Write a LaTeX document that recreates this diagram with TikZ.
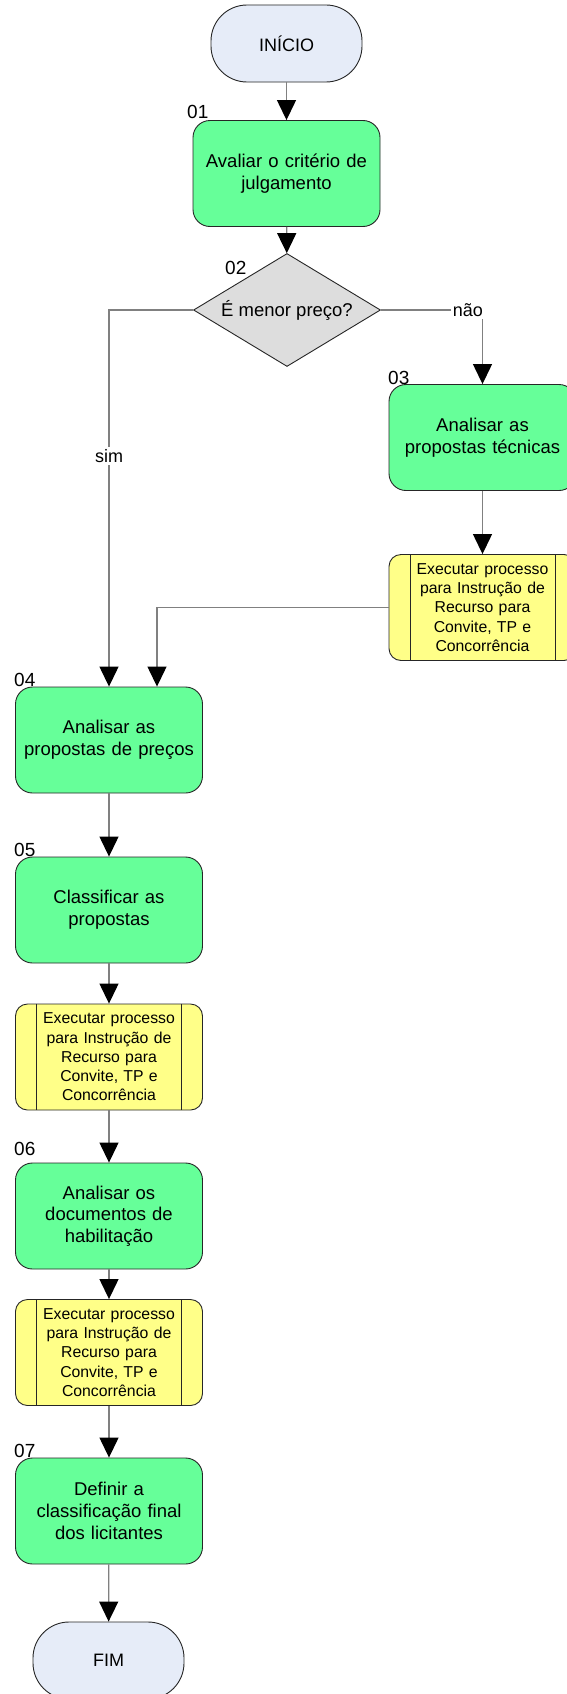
\documentclass[tikz,border=0pt]{standalone}
\usepackage{fontspec}
\setmainfont{Liberation Sans}
\usetikzlibrary{shapes.geometric,arrows.meta}
\definecolor{boxgreen}{RGB}{102,255,153}
\definecolor{boxyellow}{RGB}{255,255,136}
\definecolor{termfill}{RGB}{230,236,248}
\definecolor{decfill}{RGB}{221,221,221}
\definecolor{linegray}{RGB}{128,128,128}
\tikzset{
  base/.style={draw=black!85, line width=0.9pt, align=center, inner sep=0pt},
  term/.style={base, fill=termfill, rounded corners=36pt, minimum width=151pt, minimum height=77pt, font=\fontsize{18}{21.7}\selectfont},
  actbox/.style={base, fill=boxgreen, rounded corners=17pt, minimum width=187pt, minimum height=106pt, text width=180pt, font=\fontsize{18.5}{21.7}\selectfont},
  subbox/.style={base, fill=boxyellow, rounded corners=12pt, minimum width=187pt, minimum height=106pt, text width=144pt, font=\fontsize{15.8}{19.2}\selectfont},
  decbox/.style={base, diamond, fill=decfill, aspect=1.65, minimum width=187pt, minimum height=113pt, font=\fontsize{18.5}{21.7}\selectfont},
  numlbl/.style={anchor=base west, inner sep=0pt, font=\fontsize{19}{22}\selectfont},
  flow/.style={draw=linegray, line width=1.3pt, -{Triangle[color=black, width=19pt, length=20pt]}},
  edgelbl/.style={fill=white, inner sep=2pt, font=\fontsize{18}{21}\selectfont}
}
\begin{document}
\begin{tikzpicture}[x=1pt, y=-1pt]
\clip (0,0) rectangle (567,1694);
\fill[white] (0,0) rectangle (567,1694);

\node[term] (ini) at (286.5,43.5) {INÍCIO};
\node[actbox] (a01) at (286.5,173.5) {Avaliar o critério de\\julgamento};
\node[decbox] (d02) at (287,310) {É menor preço?};
\node[actbox] (a03) at (482.5,437.5) {Analisar as\\propostas técnicas};
\node[subbox] (s03) at (482.5,607.5) {Executar processo\\para Instrução de\\Recurso para\\Convite, TP e\\Concorrência};
\node[actbox] (a04) at (109,740) {Analisar as\\propostas de preços};
\node[actbox] (a05) at (109,910) {Classificar as\\propostas};
\node[subbox] (s05) at (109,1057) {Executar processo\\para Instrução de\\Recurso para\\Convite, TP e\\Concorrência};
\node[actbox] (a06) at (109,1216) {Analisar os\\documentos de\\habilitação};
\node[subbox] (s06) at (109,1352.5) {Executar processo\\para Instrução de\\Recurso para\\Convite, TP e\\Concorrência};
\node[actbox] (a07) at (109,1511) {Definir a\\classificação final\\dos licitantes};
\node[term] (fim) at (108.5,1660.5) {FIM};

\foreach \s in {s03,s05,s06}{
  \draw[black!85, line width=0.9pt] ([xshift=21.5pt]\s.north west) -- ([xshift=21.5pt]\s.south west);
  \draw[black!85, line width=0.9pt] ([xshift=-21.5pt]\s.north east) -- ([xshift=-21.5pt]\s.south east);
}

\node[numlbl] (n01) at (187,118) {01};
\node[numlbl] (n02) at (225,274) {02};
\node[numlbl] (n03) at (388,384) {03};
\node[numlbl] (n04) at (14,686) {04};
\node[numlbl] (n05) at (14,856) {05};
\node[numlbl] (n06) at (14,1155) {06};
\node[numlbl] (n07) at (14,1457) {07};

\draw[flow] (ini) -- (a01);
\draw[flow] (a01) -- (d02);
\draw[flow] (d02.west) -| node[edgelbl, pos=0.694] {sim} (a04.north);
\draw[flow] (d02.east) -| node[edgelbl, pos=0.5, anchor=east, xshift=3pt] {não} (a03.north);
\draw[flow] (a03) -- (s03);
\draw[flow] (s03.west) -| ([xshift=48pt]a04.north);
\draw[flow] (a04) -- (a05);
\draw[flow] (a05) -- (s05);
\draw[flow] (s05) -- (a06);
\draw[flow] (a06) -- (s06);
\draw[flow] (s06) -- (a07);
\draw[flow] (a07) -- (fim);
\end{tikzpicture}
\end{document}
